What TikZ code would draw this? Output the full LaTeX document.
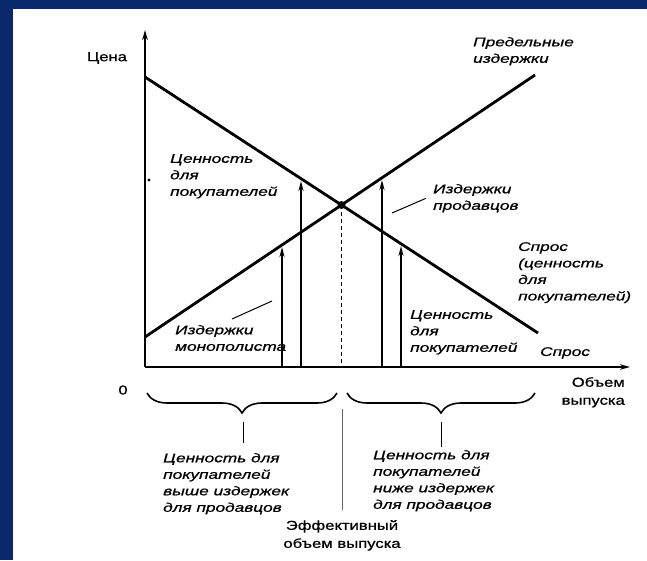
\documentclass[tikz,border=0pt]{standalone}
\usepackage{fontspec}
\setmainfont{Liberation Sans}[FakeStretch=1.28, FakeBold=0.8]
\newfontfamily\lblfont{Liberation Sans}[FakeStretch=1.38, FakeBold=0.8]
\usepackage{tikz}
\usetikzlibrary{positioning,arrows.meta,calc,decorations.pathreplacing}
\definecolor{frameblue}{RGB}{12,40,108}

\begin{document}
\begin{tikzpicture}[x=1pt,y=-1pt,
    curve/.style={line width=2.8pt},
    axis/.style={line width=2.1pt, -{Stealth[length=10pt,width=5.5pt]}},
    gain/.style={line width=2.1pt, -{Stealth[length=10pt,width=5pt]}},
    leader/.style={line width=1pt},
    brace/.style={decorate, decoration={brace, amplitude=20pt, mirror}, line width=1.6pt},
    lbl/.style={font=\lblfont\itshape\fontsize{12.5}{16.5}\selectfont, align=left, inner sep=0pt, anchor=north west},
    axlbl/.style={font=\fontsize{13}{18}\selectfont, inner sep=0pt}
]
    % Frame
    \fill[frameblue] (0,0) rectangle (647,560);
    \fill[white] (13,9) rectangle (647,560);
    \useasboundingbox (0,0) rectangle (647,560);

    % Axes
    \coordinate (O) at (145,367);
    \draw[axis] (O) -- (145,30) coordinate (ytop);
    \draw[axis] (O) -- (630,367) coordinate (xend);
    \node[axlbl] (price) at (107,58) {Цена};
    \node[axlbl] (zero) at (123,390) {0};
    \node[axlbl, align=right, anchor=north east] (qty) at (625,377) {Объем\\выпуска};

    % Demand and marginal cost
    \coordinate (dA) at (145,77);
    \coordinate (dB) at (538,333);
    \coordinate (sA) at (145,337);
    \coordinate (sB) at (535,75);
    \draw[curve] (dA) -- (dB);
    \draw[curve] (sA) -- (sB);
    \coordinate (eq) at (341.5,205);
    \fill (eq) circle (4pt);
    \draw[line width=1.3pt, dash pattern=on 4pt off 3pt] (eq) -- (eq |- O);
    \fill (149,180) circle (1.6pt);

    % Value and cost arrows
    \draw[gain] (282,367) -- (282,247);
    \draw[gain] (301,367) -- (301,181);
    \draw[gain] (382,367) -- (382,180);
    \draw[gain] (401,367) -- (401,246);

    % Labels
    \node[lbl] (valL) at (170,154) {Ценность\\для\\покупателей};
    \node[lbl] (mcLbl) at (473,37) {Предельные\\издержки};
    \node[lbl] (sellers) at (433,184) {Издержки\\продавцов};
    \node[lbl] (dLbl) at (518,242) {Спрос\\(ценность\\для\\покупателей)};
    \node[lbl] (valR) at (410,310) {Ценность\\для\\покупателей};
    \node[lbl] (dShort) at (540,347) {Спрос};
    \node[lbl] (mono) at (175,325) {Издержки\\монополиста};
    \draw[leader] (392,213) -- ([xshift=-7pt]sellers.west);
    \coordinate (monoTip) at (272,301);
    \draw[leader] (232,319) -- (monoTip);

    % Braces
    \draw[brace] (147,393) -- (337,393);
    \draw[brace] (347,393) -- (535,393);
    \coordinate (bL) at (243,422);
    \coordinate (bR) at (441,422);
    \draw[leader] (bL) -- ++(0,21);
    \draw[leader] (bR) -- ++(0,25);
    \node[lbl] (above) at (163,453) {Ценность для\\покупателей\\выше издержек\\для продавцов};
    \node[lbl] (below) at (373,450) {Ценность для\\покупателей\\ниже издержек\\для продавцов};
    \node[axlbl, align=center, anchor=north] (effQ) at (342,520) {Эффективный\\объем выпуска};
    \draw[leader, black!60] (342,409) -- ([yshift=10pt]effQ.north);
\end{tikzpicture}
\end{document}
